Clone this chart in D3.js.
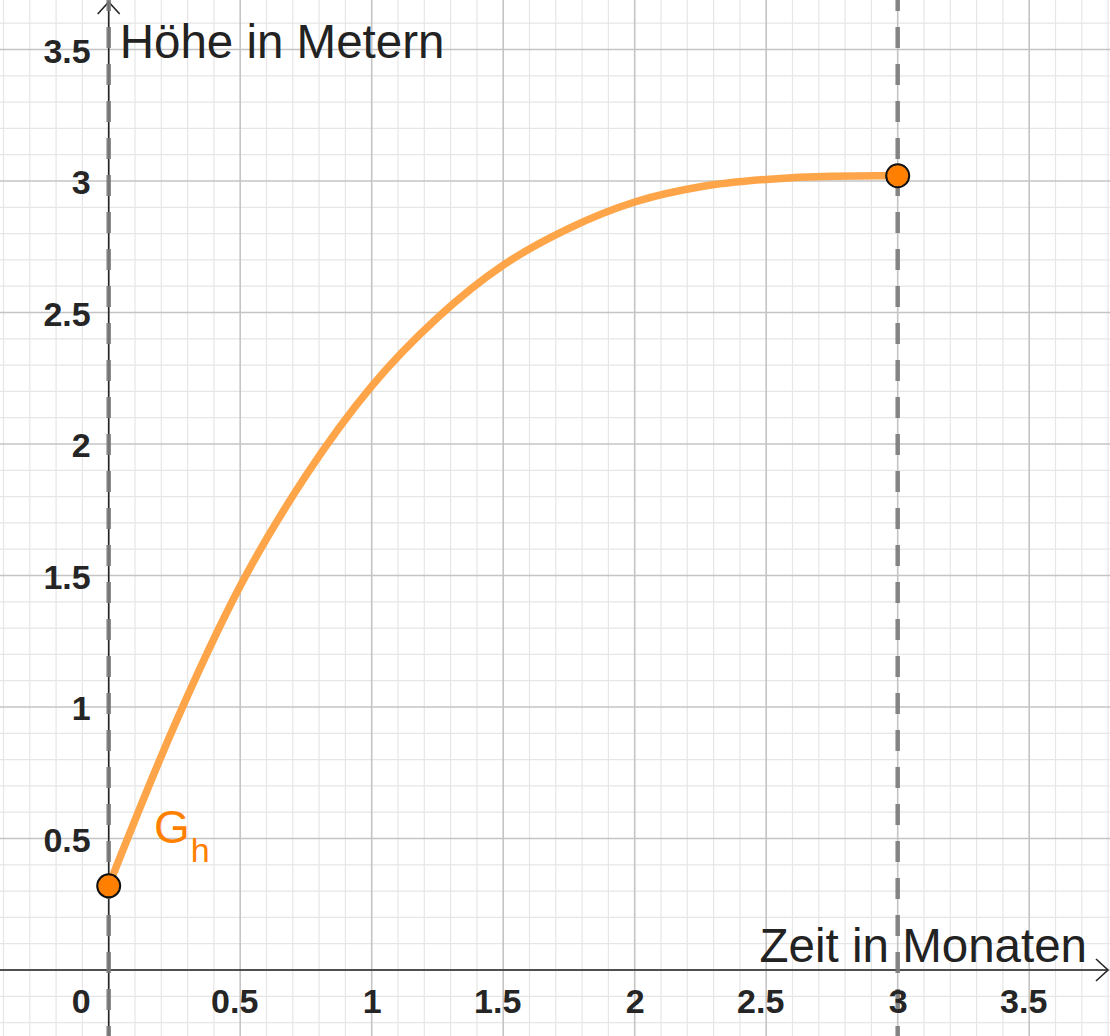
<!DOCTYPE html>
<html>
<head>
<meta charset="utf-8">
<script src="https://cdn.jsdelivr.net/npm/d3@7"></script>
<style>
  html, body { margin: 0; padding: 0; background: #fff; }
  svg { display: block; }
</style>
</head>
<body>
<svg id="chart" width="1110" height="1036"></svg>
<script>
// ---- data ----
const timeMonths = [0, 0.25, 0.5, 0.75, 1, 1.25, 1.5, 1.75, 2, 2.25, 2.5, 2.75, 3];
const heightMeters = [0.32, 0.93, 1.46, 1.88, 2.22, 2.48, 2.68, 2.82, 2.92, 2.978, 3.006, 3.018, 3.02];
const endPoints = [[0, 0.32], [3, 3.02]];
const dashedLinesX = [0, 3];
const xTickLabels = [0.5, 1, 1.5, 2, 2.5, 3, 3.5];
const yTickLabels = [0.5, 1, 1.5, 2, 2.5, 3, 3.5];
const xTitle = "Zeit in Monaten";
const yTitle = "Höhe in Metern";
const curveName = "G";
const curveSub = "h";

// ---- layout ----
const W = 1110, H = 1036;
const unit = 263;
const x0 = 108.7, y0 = 970;
const x = d3.scaleLinear().domain([-x0 / unit, (W - x0) / unit]).range([0, W]);
const y = d3.scaleLinear().domain([-(H - y0) / unit, y0 / unit]).range([H, 0]);

const svg = d3.select("#chart");
svg.append("rect").attr("width", W).attr("height", H).attr("fill", "#fff");

// grid
const minorX = d3.range(-4, 39).map(i => i / 10);
const minorY = d3.range(-2, 37).map(i => i / 10);
const isMajor = v => Math.abs(v * 2 - Math.round(v * 2)) < 1e-6;

const grid = svg.append("g");
grid.selectAll(".mx").data(minorX.filter(v => !isMajor(v))).join("line")
  .attr("x1", d => x(d)).attr("x2", d => x(d)).attr("y1", 0).attr("y2", H)
  .attr("stroke", "#e6e6e6").attr("stroke-width", 1.2);
grid.selectAll(".my").data(minorY.filter(v => !isMajor(v))).join("line")
  .attr("y1", d => y(d)).attr("y2", d => y(d)).attr("x1", 0).attr("x2", W)
  .attr("stroke", "#e6e6e6").attr("stroke-width", 1.2);
grid.selectAll(".Mx").data(minorX.filter(v => isMajor(v))).join("line")
  .attr("x1", d => x(d)).attr("x2", d => x(d)).attr("y1", 0).attr("y2", H)
  .attr("stroke", "#c4c4c4").attr("stroke-width", 1.6);
grid.selectAll(".My").data(minorY.filter(v => isMajor(v))).join("line")
  .attr("y1", d => y(d)).attr("y2", d => y(d)).attr("x1", 0).attr("x2", W)
  .attr("stroke", "#c4c4c4").attr("stroke-width", 1.6);

// axes lines
const axisColor = "#252525";
svg.append("line").attr("x1", 0).attr("x2", W - 2).attr("y1", y(0)).attr("y2", y(0))
  .attr("stroke", axisColor).attr("stroke-width", 1.6);
svg.append("line").attr("x1", x(0)).attr("x2", x(0)).attr("y1", 2).attr("y2", H)
  .attr("stroke", axisColor).attr("stroke-width", 1.6);
// arrows
svg.append("path")
  .attr("d", `M${x(0) - 11},${14} L${x(0)},${2} L${x(0) + 11},${14}`)
  .attr("fill", "none").attr("stroke", axisColor).attr("stroke-width", 1.6);
svg.append("path")
  .attr("d", `M${W - 14},${y(0) - 11} L${W - 2},${y(0)} L${W - 14},${y(0) + 11}`)
  .attr("fill", "none").attr("stroke", axisColor).attr("stroke-width", 1.6);

// dashed vertical lines
svg.selectAll(".dash").data(dashedLinesX).join("line")
  .attr("x1", d => x(d)).attr("x2", d => x(d)).attr("y1", 0).attr("y2", H)
  .attr("stroke", "#7a7a7a").attr("stroke-width", 4.5)
  .attr("stroke-dasharray", "21,16").attr("stroke-dashoffset", 10)
  .attr("opacity", 0.9);

// tick labels via axes
const font = "'Liberation Sans', Arial, sans-serif";
const tickFont = 34;
const xAxis = d3.axisBottom(x).tickValues(xTickLabels).tickSize(0).tickPadding(19)
  .tickFormat(d => String(d));
const gx = svg.append("g").attr("transform", `translate(0,${y(0)})`).call(xAxis);
gx.select(".domain").remove();
gx.selectAll("text")
  .attr("font-family", font).attr("font-size", tickFont).attr("font-weight", "bold")
  .attr("fill", axisColor)
  .attr("dx", d => (String(d).includes(".") ? -6 : 0));

const yAxis = d3.axisLeft(y).tickValues(yTickLabels).tickSize(0).tickPadding(18)
  .tickFormat(d => String(d));
const gy = svg.append("g").attr("transform", `translate(${x(0)},0)`).call(yAxis);
gy.select(".domain").remove();
gy.selectAll("text")
  .attr("font-family", font).attr("font-size", tickFont).attr("font-weight", "bold")
  .attr("fill", axisColor).attr("dy", "0.37em");

// origin label
svg.append("text").attr("x", x(0) - 18).attr("y", y(0) + 43)
  .attr("text-anchor", "end")
  .attr("font-family", font).attr("font-size", tickFont).attr("font-weight", "bold")
  .attr("fill", axisColor).text("0");

// axis titles
svg.append("text").attr("x", x(0) + 11).attr("y", 58)
  .attr("font-family", font).attr("font-size", 47.5).attr("fill", "#222")
  .text(yTitle);
svg.append("text").attr("x", 1087).attr("y", y(0) - 8).attr("text-anchor", "end")
  .attr("font-family", font).attr("font-size", 47.5).attr("fill", "#222")
  .text(xTitle);

// curve
const pts = timeMonths.map((t, i) => [t, heightMeters[i]]);
const line = d3.line().x(d => x(d[0])).y(d => y(d[1])).curve(d3.curveMonotoneX);
svg.append("path").datum(pts).attr("d", line)
  .attr("fill", "none").attr("stroke", "#ffa03f").attr("stroke-width", 7.5)
  .attr("stroke-linecap", "butt").attr("opacity", 0.95);

// curve label
const lab = svg.append("text").attr("x", 154).attr("y", 843)
  .attr("font-family", font).attr("fill", "#ff8000");
lab.append("tspan").attr("font-size", 46).text(curveName);
lab.append("tspan").attr("font-size", 34).attr("dy", 19).attr("dx", 1).text(curveSub);

// points
svg.selectAll(".pt").data(endPoints).join("circle")
  .attr("cx", d => x(d[0])).attr("cy", d => y(d[1])).attr("r", 11.5)
  .attr("fill", "#ff8000").attr("stroke", "#111").attr("stroke-width", 2);
</script>
</body>
</html>
